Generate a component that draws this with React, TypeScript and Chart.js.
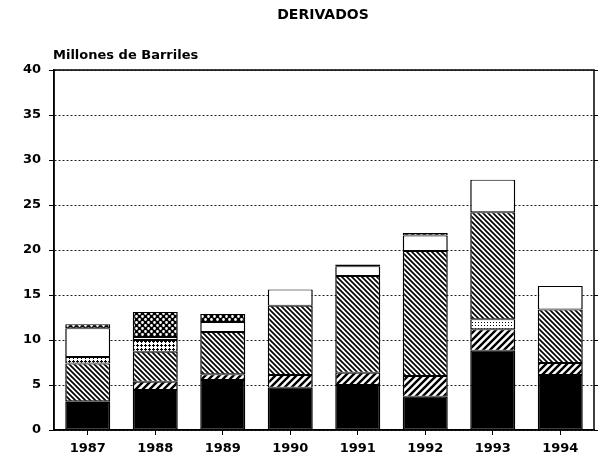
import React, { useEffect, useRef } from "react";
import { Chart, registerables } from "chart.js";
Chart.register(...registerables);

const years = ["1987", "1988", "1989", "1990", "1991", "1992", "1993", "1994"];
const solidBlack = [3.1, 4.45, 5.55, 4.7, 5.0, 3.7, 8.8, 6.1];
const wideHatch = [0.1, 0.9, 0.65, 1.4, 1.35, 2.3, 2.4, 1.35];
const lightDots = [0, 0, 0, 0, 0, 0, 1.1, 0];
const denseHatch = [4.2, 3.35, 4.7, 7.7, 10.75, 13.9, 11.9, 5.95];
const crosses = [0.7, 1.3, 0, 0, 0, 0, 0, 0];
const blank = [3.2, 0.33, 1.1, 1.8, 1.1, 1.7, 3.6, 2.6];
const checks = [0.45, 2.77, 0.9, 0, 0.2, 0.3, 0, 0];
const yTicks = [0, 5, 10, 15, 20, 25, 30, 35, 40];
const titleText = "DERIVADOS";
const unitText = "Millones de Barriles";

function tile(size: number, draw: (c: CanvasRenderingContext2D, s: number) => void): CanvasPattern | string {
  const cv = document.createElement("canvas");
  cv.width = size;
  cv.height = size;
  const c = cv.getContext("2d");
  if (!c) return "#fff";
  c.fillStyle = "#fff";
  c.fillRect(0, 0, size, size);
  draw(c, size);
  const p = c.createPattern(cv, "repeat");
  return p || "#fff";
}

function makePatterns() {
  const fwd = tile(7, (c, s) => {
    c.strokeStyle = "#000";
    c.lineWidth = 2.4;
    c.beginPath();
    c.moveTo(0, s); c.lineTo(s, 0);
    c.moveTo(-2, 2); c.lineTo(2, -2);
    c.moveTo(s - 2, s + 2); c.lineTo(s + 2, s - 2);
    c.stroke();
  });
  const back = tile(5, (c, s) => {
    c.strokeStyle = "#000";
    c.lineWidth = 1.7;
    c.beginPath();
    c.moveTo(0, 0); c.lineTo(s, s);
    c.moveTo(-2, s - 2); c.lineTo(2, s + 2);
    c.moveTo(s - 2, -2); c.lineTo(s + 2, 2);
    c.stroke();
  });
  const dots = tile(3, (c) => {
    c.fillStyle = "#000";
    c.fillRect(1, 1, 1, 1);
  });
  const cross = tile(4, (c) => {
    c.fillStyle = "#000";
    c.fillRect(0, 1, 3, 1);
    c.fillRect(1, 0, 1, 3);
  });
  const check = tile(6, (c, s) => {
    c.fillStyle = "#000";
    c.fillRect(0, 0, s, s);
    c.fillStyle = "#fff";
    c.beginPath();
    c.arc(1.5, 1.5, 1.4, 0, Math.PI * 2);
    c.arc(4.5, 4.5, 1.4, 0, Math.PI * 2);
    c.fill();
  });
  return { fwd, back, dots, cross, check };
}

export default function App() {
  const ref = useRef<HTMLCanvasElement | null>(null);
  useEffect(() => {
    if (!ref.current) return;
    const p = makePatterns();
    const font = { family: "DejaVu Sans", weight: "bold" as const, size: 13 };
    const ds = (label: string, data: number[], bg: any) => ({
      label,
      data,
      backgroundColor: bg,
      borderColor: "#000",
      borderWidth: { left: 1.5, right: 1.5, top: 1, bottom: 1 },
      borderSkipped: false,
      barPercentage: 0.667,
      categoryPercentage: 1,
    });
    const framePlugin = {
      id: "frame",
      afterDraw(chart: any) {
        const ctx = chart.ctx;
        const { left, top, right, bottom } = chart.chartArea;
        ctx.save();
        ctx.fillStyle = "#000";
        ctx.font = 'bold 14px "DejaVu Sans"';
        ctx.textAlign = "center";
        ctx.textBaseline = "middle";
        ctx.fillText(titleText, 323, 15);
        ctx.font = 'bold 13px "DejaVu Sans"';
        ctx.textAlign = "left";
        ctx.fillText(unitText, 53, 56);
        ctx.strokeStyle = "#000";
        ctx.lineWidth = 1.5;
        ctx.strokeRect(left, top, right - left, bottom - top);
        ctx.lineWidth = 1;
        const ys = chart.scales.y;
        yTicks.forEach((v) => {
          const py = Math.round(ys.getPixelForValue(v)) + 0.5;
          ctx.beginPath();
          ctx.moveTo(right, py);
          ctx.lineTo(right + 4, py);
          ctx.stroke();
        });
        ctx.restore();
      },
    };
    const chart = new Chart(ref.current, {
      type: "bar",
      data: {
        labels: years,
        datasets: [
          ds("a", solidBlack, "#000"),
          ds("b", wideHatch, p.fwd),
          ds("c", lightDots, p.dots),
          ds("d", denseHatch, p.back),
          ds("e", crosses, p.cross),
          ds("f", blank, "#fff"),
          ds("g", checks, p.check),
        ],
      },
      options: {
        responsive: false,
        animation: false,
        layout: { padding: { top: 70, right: 6, left: 0, bottom: 0 } },
        plugins: { legend: { display: false }, tooltip: { enabled: false }, title: { display: false } },
        scales: {
          x: {
            stacked: true,
            afterFit: (s: any) => { s.height = 30; },
            grid: { display: true, drawOnChartArea: false, drawTicks: true, tickLength: 5, offset: false, color: "#000", tickColor: "#000" },
            border: { display: true, color: "#000", width: 1.5 },
            ticks: { color: "#000", font, padding: 6, autoSkip: false, maxRotation: 0 },
          },
          y: {
            stacked: true,
            min: 0,
            max: 40,
            afterFit: (s: any) => { s.width = 54; },
            afterBuildTicks: (s: any) => { s.ticks = yTicks.map((v) => ({ value: v })); },
            grid: { color: "#222", lineWidth: 1, tickLength: 5, tickColor: "#000", tickWidth: 1, tickBorderDash: [] },
            border: { display: true, color: "#000", width: 1.5, dash: [2, 2] },
            ticks: { color: "#000", font, padding: 8 },
          },
        },
      },
      plugins: [framePlugin],
    } as any);
    return () => chart.destroy();
  }, []);
  return (
    <div style={{ position: "absolute", left: 0, top: 0, width: 600, height: 460, background: "#fff" }}>
      <canvas ref={ref} width={600} height={460} />
    </div>
  );
}
